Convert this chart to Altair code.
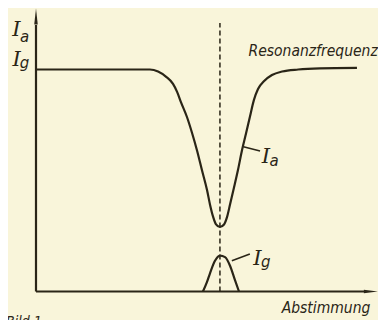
import altair as alt
import pandas as pd

# Anode current I_a vs tuning (tuning 0..100 along the axis, I_a = 100 off resonance)
ia_x = [0, 18.8, 33.5, 35.9, 38.2, 40.3, 41.5, 42.6, 44.4, 45.9, 47.4, 48.8, 50.3, 51.2,
        52.1, 52.9, 54.1, 55.3, 56.2, 57.1, 58.2, 59.4, 60.6, 61.8, 62.9, 64.1, 65.3,
        67.1, 69.4, 72.4, 77.1, 83.5, 94.4]
ia_y = [100, 100, 100, 99.1, 96.8, 93.5, 89.9, 85.4, 78.6, 71.4, 63.3, 54.7, 45.7, 39.0,
        33.6, 30.4, 29.1, 30.2, 33.6, 39.4, 46.6, 54.7, 63.7, 71.4, 78.6, 86.3, 91.2,
        94.8, 97.5, 99.1, 100, 100.5, 100.7]

# Grid current I_g vs tuning
ig_x = [49.1, 50.3, 51.2, 52.6, 54.1, 55.6, 57.1, 58.5, 59.7]
ig_y = [0, 4.3, 8.3, 13.7, 16.2, 15.5, 11.5, 5.2, 0]

# Resonance frequency marker
res_x = 54.1
res_top = 120.9

# Axes (lines and arrow heads)
axis_x_end = 96.5
axis_y_end = 120.0
arrow_x_pos = [98.5, 0]
arrow_y_pos = [0, 123.9]

# Leader lines for curve labels
lead_ia = [(61.0, 65.2), (65.9, 63.3)]
lead_ig = [(57.6, 13.9), (62.9, 16.9)]

# Text labels (x center, baseline y)
big_i = [(-5.74, 114.9), (-5.68, 101.6), (67.6, 57.9), (65.1, 11.9)]
subs = [("a", -3.38, 112.6), ("g", -3.38, 100.5), ("a", 70.0, 56.5), ("g", 67.6, 11.0)]
labels = [("Resonanzfrequenz", 81.5, 106.3), ("Abstimmung", 85.3, -9.5)]
caption = [("Bild 1", -8.8, -15.5)]

INK = "#2a2517"
BG = "#f9f5da"
XS = alt.Scale(domain=[-8.235, 100.588], nice=False, zero=False)
YS = alt.Scale(domain=[-12.838, 127.70], nice=False, zero=False)


def X(f="x"):
    return alt.X(f"{f}:Q", scale=XS, axis=None)


def Y(f="y"):
    return alt.Y(f"{f}:Q", scale=YS, axis=None)


ia_df = pd.DataFrame({"x": ia_x, "y": ia_y})
ig_df = pd.DataFrame({"x": ig_x, "y": ig_y})

ia_line = alt.Chart(ia_df).mark_line(color=INK, strokeWidth=2.2, interpolate="monotone").encode(x=X(), y=Y())
ig_line = alt.Chart(ig_df).mark_line(color=INK, strokeWidth=2.2, interpolate="monotone").encode(x=X(), y=Y())

res_df = pd.DataFrame({"x": [res_x], "y": [0], "y2": [res_top]})
res_rule = alt.Chart(res_df).mark_rule(color=INK, strokeWidth=1.5, strokeDash=[5, 3]).encode(
    x=X(), y=Y(), y2="y2:Q")

axes_df = pd.DataFrame({"x": [0, 0], "y": [0, 0], "x2": [axis_x_end, 0], "y2": [0, axis_y_end]})
axes_rule = alt.Chart(axes_df).mark_rule(color=INK, strokeWidth=2.2).encode(
    x=X(), y=Y(), x2="x2:Q", y2="y2:Q")

arrow_x = alt.Chart(pd.DataFrame({"x": [arrow_x_pos[0]], "y": [arrow_x_pos[1]]})).mark_point(
    shape="M1,0 L-1,0.24 L-1,-0.24 Z", filled=True, color=INK, opacity=1, size=196, strokeWidth=0
).encode(x=X(), y=Y())
arrow_y = alt.Chart(pd.DataFrame({"x": [arrow_y_pos[0]], "y": [arrow_y_pos[1]]})).mark_point(
    shape="M0,-1 L0.22,1 L-0.22,1 Z", filled=True, color=INK, opacity=1, size=256, strokeWidth=0
).encode(x=X(), y=Y())

lead_df = pd.DataFrame({
    "x": [lead_ia[0][0], lead_ig[0][0]], "y": [lead_ia[0][1], lead_ig[0][1]],
    "x2": [lead_ia[1][0], lead_ig[1][0]], "y2": [lead_ia[1][1], lead_ig[1][1]],
})
leads = alt.Chart(lead_df).mark_rule(color=INK, strokeWidth=1.6).encode(
    x=X(), y=Y(), x2="x2:Q", y2="y2:Q")

bigI = alt.Chart(pd.DataFrame({"x": [p[0] for p in big_i], "y": [p[1] for p in big_i], "t": ["I"] * 4})).mark_text(
    font="DejaVu Serif", fontStyle="italic", fontSize=21, color=INK, align="center", baseline="alphabetic"
).encode(x=X(), y=Y(), text="t:N")

sub_txt = alt.Chart(pd.DataFrame({"t": [s[0] for s in subs], "x": [s[1] for s in subs], "y": [s[2] for s in subs]})).mark_text(
    font="DejaVu Sans", fontStyle="italic", fontSize=15, color=INK, align="center", baseline="alphabetic"
).encode(x=X(), y=Y(), text="t:N")

lab_txt = alt.Chart(pd.DataFrame({"t": [s[0] for s in labels], "x": [s[1] for s in labels], "y": [s[2] for s in labels]})).mark_text(
    font="DejaVu Sans Condensed, Liberation Sans Narrow, DejaVu Sans", fontStyle="italic", fontSize=15.5,
    color=INK, align="center", baseline="alphabetic"
).encode(x=X(), y=Y(), text="t:N")

cap_txt = alt.Chart(pd.DataFrame({"t": [s[0] for s in caption], "x": [s[1] for s in caption], "y": [s[2] for s in caption]})).mark_text(
    font="DejaVu Sans Condensed, DejaVu Sans", fontStyle="italic", fontSize=14,
    color=INK, align="left", baseline="alphabetic"
).encode(x=X(), y=Y(), text="t:N")

chart = alt.layer(
    axes_rule, arrow_x, arrow_y, res_rule, ia_line, ig_line, leads, bigI, sub_txt, lab_txt, cap_txt
).properties(
    width=370, height=312, background=BG, padding=0,
    autosize=alt.AutoSizeParams(type="none"),
).configure_view(stroke=None)

chart.save("out.html", embed_options={"renderer": "svg", "actions": False})
